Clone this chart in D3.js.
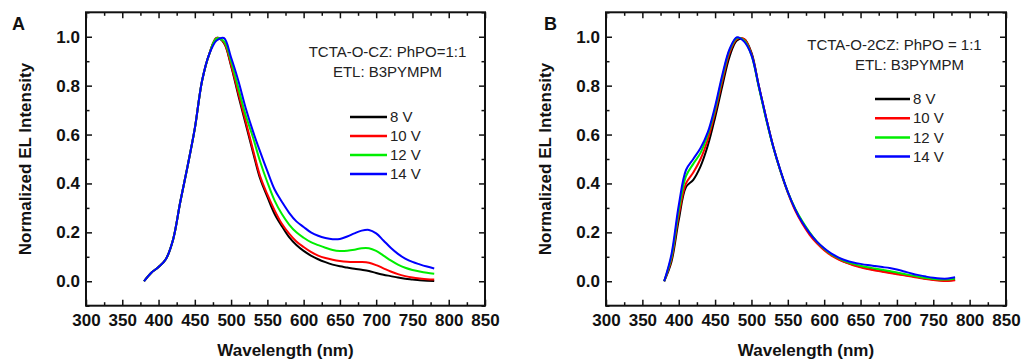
<!DOCTYPE html>
<html>
<head>
<meta charset="utf-8">
<script src="https://cdn.jsdelivr.net/npm/d3@7"></script>
<style>
  html, body { margin: 0; padding: 0; background: #fff; }
  svg { display: block; font-family: "Liberation Sans", Arial, sans-serif; }
</style>
</head>
<body>
<svg id="chart" width="1024" height="362"></svg>
<script>
// wavelength grid (nm)
const wavelengths = d3.range(380, 781, 10);

const seriesNames = ["8 V", "10 V", "12 V", "14 V"];
const seriesColors = ["#000000", "#ff0000", "#00ee00", "#0000ff"];

// panel A: TCTA-O-CZ
const a8V  = [0.00,0.035,0.058,0.09,0.17,0.325,0.47,0.625,0.82,0.93,0.995,0.975,0.88,0.76,0.645,0.53,0.42,0.345,0.275,0.225,0.18,0.148,0.124,0.105,0.09,0.078,0.068,0.061,0.056,0.051,0.047,0.042,0.034,0.027,0.021,0.015,0.010,0.007,0.004,0.002,0.001];
const a10V = [0.00,0.035,0.058,0.09,0.17,0.325,0.47,0.625,0.82,0.93,0.995,0.977,0.885,0.77,0.655,0.54,0.43,0.355,0.29,0.235,0.195,0.163,0.14,0.12,0.105,0.095,0.088,0.083,0.080,0.079,0.079,0.076,0.066,0.053,0.040,0.029,0.021,0.015,0.011,0.008,0.007];
const a12V = [0.00,0.035,0.058,0.09,0.17,0.325,0.47,0.625,0.82,0.93,0.993,0.982,0.90,0.79,0.68,0.59,0.49,0.405,0.33,0.275,0.232,0.20,0.178,0.16,0.148,0.137,0.128,0.124,0.125,0.129,0.135,0.135,0.124,0.105,0.085,0.068,0.055,0.046,0.040,0.035,0.031];
const a14V = [0.00,0.035,0.058,0.09,0.17,0.325,0.47,0.625,0.82,0.93,0.985,0.995,0.915,0.82,0.71,0.615,0.53,0.45,0.375,0.325,0.28,0.245,0.222,0.20,0.186,0.177,0.172,0.173,0.183,0.196,0.207,0.21,0.196,0.167,0.137,0.112,0.093,0.079,0.069,0.060,0.052];

// panel B: TCTA-O-2CZ
const b8V  = [0.00,0.08,0.25,0.385,0.415,0.47,0.555,0.67,0.80,0.92,0.985,0.99,0.935,0.80,0.67,0.55,0.45,0.365,0.295,0.24,0.195,0.16,0.13,0.108,0.091,0.077,0.067,0.059,0.052,0.046,0.041,0.036,0.031,0.026,0.021,0.016,0.011,0.007,0.004,0.003,0.006];
const b10V = [0.00,0.09,0.27,0.40,0.445,0.50,0.58,0.69,0.82,0.935,0.99,0.99,0.93,0.80,0.67,0.55,0.45,0.362,0.29,0.235,0.19,0.155,0.127,0.105,0.089,0.076,0.065,0.057,0.050,0.044,0.039,0.034,0.029,0.024,0.019,0.014,0.009,0.005,0.002,0.001,0.004];
const b12V = [0.00,0.10,0.29,0.43,0.48,0.525,0.60,0.705,0.835,0.945,0.995,0.985,0.925,0.795,0.665,0.548,0.45,0.365,0.298,0.245,0.20,0.162,0.133,0.11,0.094,0.081,0.071,0.063,0.057,0.052,0.047,0.042,0.036,0.030,0.024,0.018,0.013,0.009,0.007,0.007,0.011];
const b14V = [0.00,0.11,0.31,0.455,0.50,0.545,0.61,0.715,0.845,0.95,0.998,0.98,0.925,0.80,0.67,0.55,0.452,0.365,0.295,0.24,0.197,0.162,0.135,0.113,0.097,0.085,0.077,0.071,0.066,0.062,0.058,0.054,0.048,0.040,0.032,0.025,0.019,0.014,0.011,0.011,0.016];

const xMajor = d3.range(300, 851, 50);
const xMinor = d3.range(325, 851, 50);
const yMajor = [0.0, 0.2, 0.4, 0.6, 0.8, 1.0];
const yMinor = [-0.1, 0.1, 0.3, 0.5, 0.7, 0.9, 1.1];

const panels = [
  {
    letter: "A", letterX: 12,
    left: 86, right: 485,
    series: [a8V, a10V, a12V, a14V],
    notes: [
      {text: "TCTA-O-CZ: PhPO=1:1", x: 387.5, y: 56.5},
      {text: "ETL: B3PYMPM", x: 387.5, y: 76.5}
    ],
    legend: {x1: 350, x2: 387, y0: 117, dy: 19}
  },
  {
    letter: "B", letterX: 544,
    left: 606, right: 1006,
    series: [b8V, b10V, b12V, b14V],
    notes: [
      {text: "TCTA-O-2CZ: PhPO = 1:1", x: 894.5, y: 50},
      {text: "ETL: B3PYMPM", x: 909.5, y: 70}
    ],
    legend: {x1: 875, x2: 910, y0: 99, dy: 19.2}
  }
];

const plotTop = 12.3, plotBottom = 305.7;
const svg = d3.select("#chart");

panels.forEach(p => {
  const x = d3.scaleLinear().domain([300, 850]).range([p.left, p.right]);
  const y = d3.scaleLinear().domain([-0.1, 1.1]).range([plotBottom, plotTop]);
  const g = svg.append("g");

  // curves
  const line = d3.line()
    .x((d, i) => x(wavelengths[i]))
    .y(d => y(d))
    .curve(d3.curveCatmullRom.alpha(0.5));

  p.series.forEach((vals, k) => {
    g.append("path")
      .datum(vals)
      .attr("d", line)
      .attr("fill", "none")
      .attr("stroke", seriesColors[k])
      .attr("stroke-width", 2)
      .attr("stroke-linejoin", "round");
  });

  // axes, ticks pointing inward on all four sides
  function addAxis(axisFn, scale, values, size, transform, labels) {
    const ax = axisFn(scale).tickValues(values).tickSize(-size).tickPadding(labels ? (axisFn === d3.axisBottom ? 8 : 6) : 0);
    if (!labels) ax.tickFormat("");
    else if (axisFn === d3.axisLeft) ax.tickFormat(d3.format(".1f"));
    const a = g.append("g").attr("transform", transform).call(ax);
    a.select(".domain").remove();
    a.selectAll("line").attr("stroke", "#111").attr("stroke-width", 1.5);
    return a;
  }

  const xb = addAxis(d3.axisBottom, x, xMajor, 6, `translate(0,${plotBottom})`, true);
  xb.selectAll("text").attr("font-size", 17).attr("font-weight", "bold").attr("fill", "#111")
    .attr("font-family", "Liberation Sans, Arial, sans-serif");
  addAxis(d3.axisBottom, x, xMinor, 3.5, `translate(0,${plotBottom})`, false);
  addAxis(d3.axisTop, x, xMajor, 6, `translate(0,${plotTop})`, false);
  addAxis(d3.axisTop, x, xMinor, 3.5, `translate(0,${plotTop})`, false);

  const yl = addAxis(d3.axisLeft, y, yMajor, 6, `translate(${p.left},0)`, true);
  yl.selectAll("text").attr("font-size", 17).attr("font-weight", "bold").attr("fill", "#111")
    .attr("font-family", "Liberation Sans, Arial, sans-serif");
  addAxis(d3.axisLeft, y, yMinor, 3.5, `translate(${p.left},0)`, false);
  addAxis(d3.axisRight, y, yMajor, 6, `translate(${p.right},0)`, false);
  addAxis(d3.axisRight, y, yMinor, 3.5, `translate(${p.right},0)`, false);

  // frame
  g.append("rect")
    .attr("x", p.left).attr("y", plotTop)
    .attr("width", p.right - p.left).attr("height", plotBottom - plotTop)
    .attr("fill", "none").attr("stroke", "#111").attr("stroke-width", 2);

  // axis titles
  g.append("text")
    .attr("x", (p.left + p.right) / 2).attr("y", 355.5)
    .attr("text-anchor", "middle")
    .attr("font-size", 17).attr("font-weight", "bold").attr("fill", "#111")
    .text("Wavelength (nm)");

  g.append("text")
    .attr("transform", `translate(${p.left - 55},${(plotTop + plotBottom) / 2}) rotate(-90)`)
    .attr("text-anchor", "middle")
    .attr("font-size", 17).attr("font-weight", "bold").attr("fill", "#111")
    .text("Normalized EL Intensity");

  // panel letter
  g.append("text")
    .attr("x", p.letterX).attr("y", 30)
    .attr("font-size", 18).attr("font-weight", "bold").attr("fill", "#111")
    .text(p.letter);

  // annotation
  p.notes.forEach(n => {
    g.append("text")
      .attr("x", n.x).attr("y", n.y)
      .attr("text-anchor", "middle")
      .attr("font-size", 15).attr("fill", "#222")
      .text(n.text);
  });

  // legend
  seriesNames.forEach((name, k) => {
    const ly = p.legend.y0 + k * p.legend.dy;
    g.append("line")
      .attr("x1", p.legend.x1).attr("x2", p.legend.x2)
      .attr("y1", ly).attr("y2", ly)
      .attr("stroke", seriesColors[k]).attr("stroke-width", 2.5);
    g.append("text")
      .attr("x", p.legend.x2 + 3).attr("y", ly)
      .attr("dy", "0.35em")
      .attr("font-size", 15).attr("fill", "#222")
      .text(name);
  });
});
</script>
</body>
</html>
